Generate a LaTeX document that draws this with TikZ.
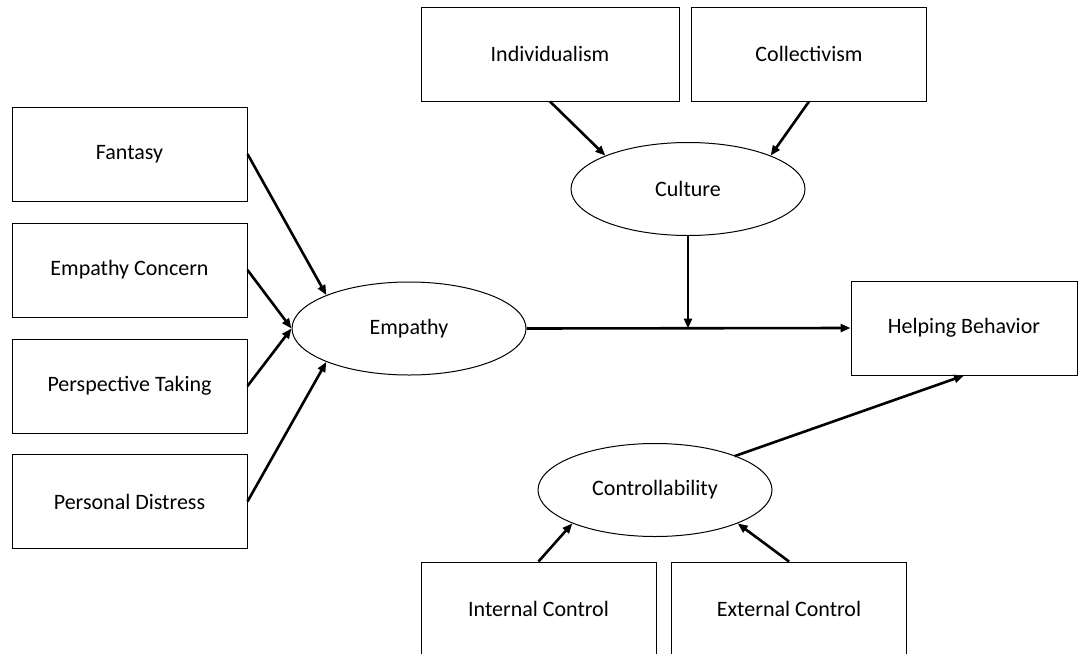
\documentclass[tikz,border=0pt]{standalone}
\usepackage{fontspec}
\setmainfont{Carlito}
\usetikzlibrary{shapes.geometric, arrows.meta}
\tikzset{
	box/.style   ={rectangle, draw=black, line width=1pt, minimum width=235pt, minimum height=94pt, inner sep=0pt, align=center},
	latent/.style={ellipse, draw=black, line width=1pt, minimum width=234pt, minimum height=93pt, inner sep=0pt},
	link/.style  ={-{Triangle[length=10pt, width=8pt]}, line width=2.6pt},
}
\begin{document}
\begin{tikzpicture}[x=1pt, y=-1pt, font=\fontsize{22}{26}\selectfont]
	\useasboundingbox (0,0) rectangle (1078,653);
	% facets of empathy
	\node[box] (fantasy) at (129.5,154) {Fantasy};
	\node[box] (concern) at (129.5,270) {Empathy Concern};
	\node[box] (perspective) at (129.5,386) {Perspective Taking};
	\node[box] (distress) at (129.5,501.5) {Personal Distress};
	% cultural orientation
	\node[box, minimum width=258pt] (indiv) at (550,54) {Individualism};
	\node[box] (collect) at (809,54) {Collectivism};
	% locus of control
	\node[box] (internal) at (538.5,609) {Internal Control};
	\node[box] (external) at (789,609) {External Control};
	% latent variables
	\node[latent] (empathy) at (409,328.5) {Empathy};
	\node[latent] (culture) at (688,189) {Culture};
	\node[latent] (control) at (655,490) {Controllability};
	\node[box, minimum width=226pt] (helping) at (964,328) {Helping Behavior};
	\coordinate (join) at (culture.south |- empathy.east);

	\draw[link] (fantasy.east) -- (empathy.158);
	\draw[link] (concern.east) -- (empathy.west);
	\draw[link] (perspective.east) -- (empathy.west);
	\draw[link] (distress.east) -- (empathy.202);
	\draw[link] (indiv.south) -- (culture.158);
	\draw[link] (collect.south) -- (culture.22);
	\draw[link] (empathy.east) -- (helping.west);
	\draw[link] (culture.south) -- (join);
	\draw[link] (internal.north) -- (control.202);
	\draw[link] (external.north) -- (control.338);
	\draw[link, shorten <=-1pt] (control.23) -- (helping.south);
\end{tikzpicture}
\end{document}
